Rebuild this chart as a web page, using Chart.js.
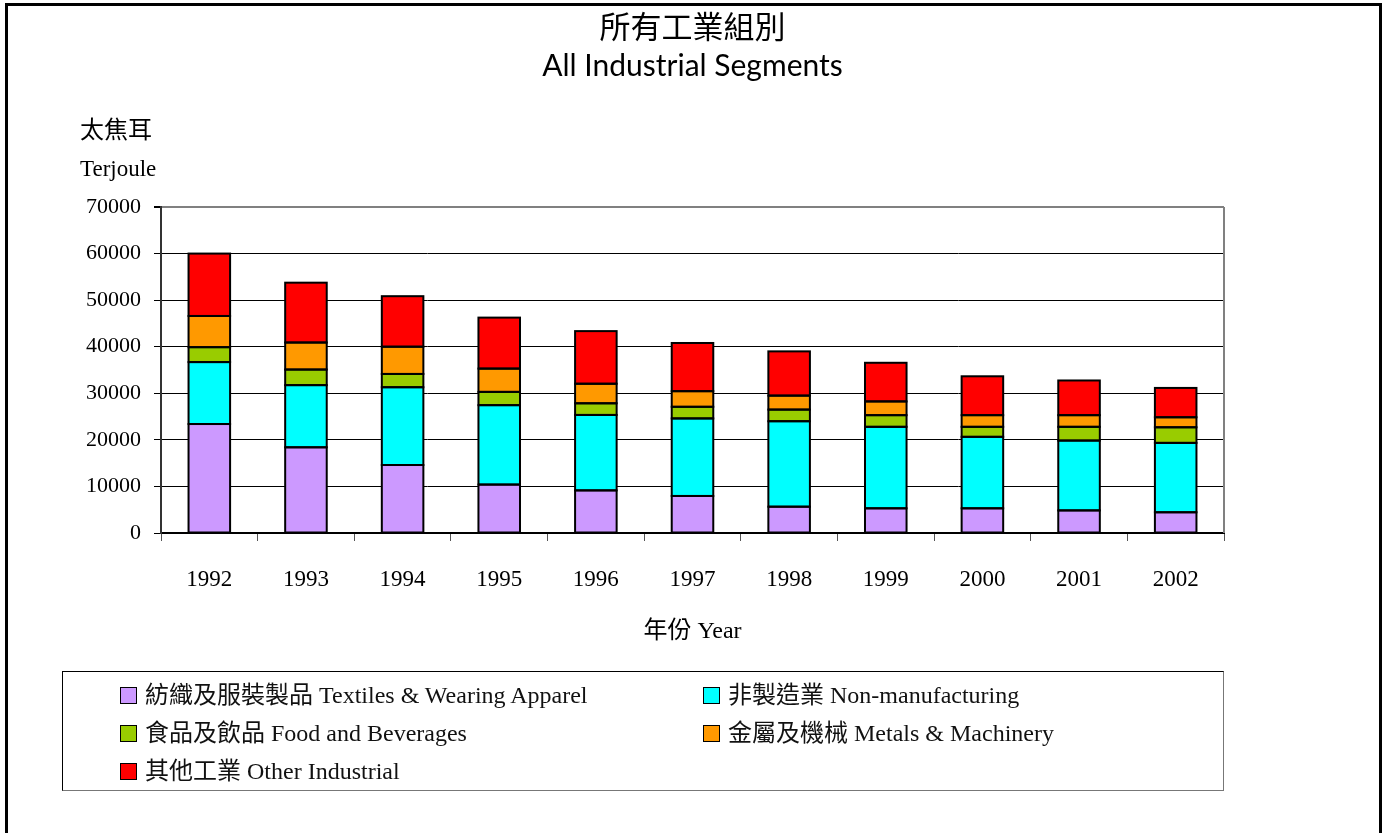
<!DOCTYPE html>
<html>
<head>
<meta charset="utf-8">
<script src="https://cdn.jsdelivr.net/npm/chart.js@4.4.1/dist/chart.umd.min.js"></script>
<style>
  html, body { margin: 0; padding: 0; background: #fff; }
  body { width: 1385px; height: 833px; position: relative; overflow: hidden; }
  #frame {
    position: absolute; left: 5px; top: 3px; width: 1371px; height: 840px;
    border: 3px solid #000; border-bottom: none;
  }
  #chartBox { position: absolute; left: 0; top: 0; width: 1385px; height: 833px; }
  #legend {
    position: absolute; left: 62px; top: 671px; width: 1160px; height: 118px;
    border: 1px solid #000; border-right-color: #777; border-bottom-color: #777;
    font-family: 'Liberation Serif', 'Noto Sans CJK TC', serif; font-size: 24px; color: #111;
  }
  .item { position: absolute; height: 26px; line-height: 26px; white-space: nowrap; }
  .item .box {
    display: inline-block; width: 15px; height: 15px; border: 1.5px solid #000;
    vertical-align: -1px; margin-right: 8px;
  }
</style>
</head>
<body>
<div id="frame"></div>
<div id="chartBox"><canvas id="energyChart"></canvas></div>
<div id="legend"></div>
<script>
// データ (太焦耳 Terjoule)
const years = ['1992', '1993', '1994', '1995', '1996', '1997', '1998', '1999', '2000', '2001', '2002'];
const textiles = [23400, 18400, 14600, 10400, 9150, 7950, 5650, 5300, 5300, 4850, 4450];
const nonManufacturing = [13300, 13350, 16700, 17050, 16200, 16650, 18350, 17500, 15350, 15000, 14900];
const foodBeverages = [3200, 3350, 2850, 2850, 2500, 2500, 2500, 2500, 2150, 2950, 3350];
const metalsMachinery = [6700, 5800, 5850, 5000, 4200, 3350, 3000, 2950, 2500, 2500, 2150];
const otherIndustrial = [13400, 12850, 10850, 10950, 11300, 10350, 9500, 8300, 8350, 7450, 6300];

const seriesLabels = [
  '紡織及服裝製品 Textiles & Wearing Apparel',
  '非製造業 Non-manufacturing',
  '食品及飲品 Food and Beverages',
  '金屬及機械 Metals & Machinery',
  '其他工業 Other Industrial'
];
const seriesValues = [textiles, nonManufacturing, foodBeverages, metalsMachinery, otherIndustrial];
const seriesColors = ['#cc99ff', '#00ffff', '#99cc00', '#ff9900', '#ff0000'];

const titleLines = ['所有工業組別', 'All Industrial Segments'];
const unitLines = ['太焦耳', 'Terjoule'];
const xTitle = '年份 Year';
const yMax = 70000;
const yStep = 10000;

const serifFont = "'Liberation Serif', 'Noto Sans CJK TC', serif";

// 棒の枠線（境界線を共有させる）
const barOutlinePlugin = {
  id: 'barOutline',
  afterDatasetsDraw(chart) {
    const { ctx } = chart;
    ctx.save();
    ctx.strokeStyle = '#000';
    ctx.lineWidth = 2;
    chart.data.datasets.forEach((ds, i) => {
      chart.getDatasetMeta(i).data.forEach(bar => {
        const { x, y, base, width } = bar.getProps(['x', 'y', 'base', 'width'], true);
        ctx.strokeRect(x - width / 2, Math.min(y, base), width, Math.abs(base - y));
      });
    });
    ctx.restore();
  }
};

// タイトル・単位などのテキスト描画
const textPlugin = {
  id: 'textPlugin',
  afterDraw(chart) {
    const { ctx, chartArea } = chart;
    const cx = (chartArea.left + chartArea.right) / 2;
    ctx.save();
    ctx.fillStyle = '#000';
    ctx.textAlign = 'center';
    ctx.textBaseline = 'middle';
    ctx.font = "31px 'Noto Sans CJK TC'";
    ctx.fillText(titleLines[0], cx, 26);
    ctx.font = "30px Lato, 'Noto Sans CJK TC'";
    ctx.fillText(titleLines[1], cx, 66);

    ctx.textAlign = 'left';
    ctx.font = '24px ' + serifFont;
    ctx.fillText(unitLines[0], chartArea.left - 81, 132);
    ctx.font = '23px ' + serifFont;
    ctx.fillText(unitLines[1], chartArea.left - 81, 170);

    ctx.textAlign = 'center';
    ctx.font = '24px ' + serifFont;
    ctx.fillText(xTitle, cx, 632);

    // 右側の枠線
    ctx.strokeStyle = '#808080';
    ctx.lineWidth = 2;
    ctx.beginPath();
    ctx.moveTo(chartArea.right, chartArea.top);
    ctx.lineTo(chartArea.right, chartArea.bottom);
    ctx.stroke();
    ctx.restore();
  }
};

const ctx = document.getElementById('energyChart').getContext('2d');
const energyChart = new Chart(ctx, {
  type: 'bar',
  data: {
    labels: years,
    datasets: seriesLabels.map((label, i) => ({
      label: label,
      data: seriesValues[i],
      backgroundColor: seriesColors[i],
      borderWidth: 0,
      inflateAmount: 0,
      barPercentage: 0.43,
      categoryPercentage: 1
    }))
  },
  options: {
    responsive: true,
    maintainAspectRatio: false,
    animation: false,
    layout: { padding: { top: 207, right: 161, bottom: 240, left: 0 } },
    plugins: {
      legend: { display: false },
      tooltip: { enabled: false }
    },
    scales: {
      x: {
        stacked: true,
        afterFit: (scale) => { scale.height = 60; },
        grid: { offset: true, drawOnChartArea: false, tickLength: 8, tickColor: '#555' },
        border: { color: '#000', width: 2 },
        ticks: { color: '#000', padding: 25, font: { family: serifFont, size: 23 } }
      },
      y: {
        stacked: true,
        min: 0,
        max: yMax,
        afterFit: (scale) => { scale.width = 161; },
        grid: {
          color: (c) => (c.tick && c.tick.value === yMax ? '#808080' : '#000'),
          lineWidth: (c) => (c.tick && c.tick.value === yMax ? 2 : 1),
          tickLength: 7,
          tickColor: '#000'
        },
        border: { color: '#333', width: 2 },
        ticks: {
          stepSize: yStep,
          color: '#000',
          padding: 13,
          font: { family: serifFont, size: 22 },
          callback: (value) => String(value)
        }
      }
    }
  },
  plugins: [barOutlinePlugin, textPlugin]
});

// 凡例
const legendElem = document.getElementById('legend');
seriesLabels.forEach((label, i) => {
  const item = document.createElement('div');
  item.classList.add('item');
  item.style.left = (i % 2 === 0 ? 57 : 640) + 'px';
  item.style.top = (10 + Math.floor(i / 2) * 38) + 'px';
  const box = document.createElement('span');
  box.classList.add('box');
  box.style.background = seriesColors[i];
  item.appendChild(box);
  item.appendChild(document.createTextNode(label));
  legendElem.appendChild(item);
});
</script>
</body>
</html>
